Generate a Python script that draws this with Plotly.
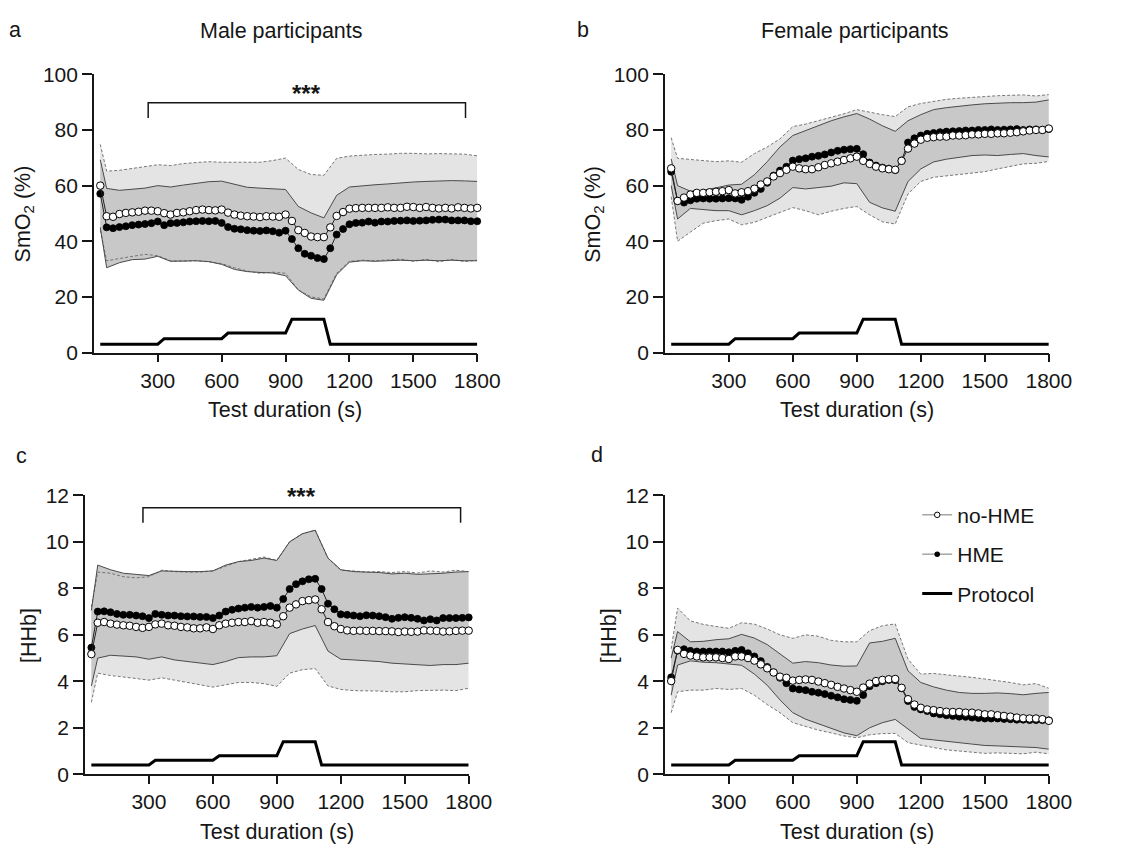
import plotly.graph_objects as go

W, H = 1146, 857

# ---------------- data ----------------
t = list(range(30, 1801, 30))                      # mean time points (s)
band_t = [30] + list(range(60, 1801, 60))          # band sample points (s)

# Panel a: SmO2, male
a_noHME = [60.0, 49.0, 48.8, 49.8, 50.2, 50.4, 50.6, 51.0, 51.0, 50.8,
           50.1, 49.6, 50.2, 50.4, 50.8, 51.2, 51.4, 51.2, 51.1, 51.4,
           50.3, 49.6, 49.2, 49.0, 48.9, 48.7, 49.0, 48.9, 48.8, 49.6,
           47.3, 44.0, 43.0, 41.7, 41.5, 41.5, 45.0, 49.1, 50.5, 51.7,
           51.9, 52.0, 52.0, 52.0, 52.0, 52.2, 52.0, 52.0, 52.4, 52.3,
           52.0, 52.3, 52.0, 51.8, 52.0, 51.8, 52.2, 52.0, 51.8, 52.0]
a_HME = [57.1, 45.0, 44.7, 45.1, 45.4, 45.8, 46.0, 46.2, 46.5, 47.1,
         45.8, 46.5, 46.6, 46.8, 47.1, 47.2, 47.3, 47.2, 47.3, 46.6,
         45.1, 44.5, 44.3, 44.0, 43.8, 43.7, 43.9, 43.6, 43.1, 43.8,
         40.8, 37.5, 35.5, 34.8, 34.0, 33.6, 37.5, 42.4, 44.4, 46.1,
         46.6, 46.7, 47.1, 46.7, 47.1, 47.1, 47.3, 47.4, 47.5, 47.3,
         47.4, 47.5, 47.7, 47.8, 47.8, 47.5, 47.5, 47.5, 47.2, 47.2]
a_dash_up = [74.8, 65.2, 65.5, 66.2, 66.9, 67.5, 67.2, 67.9, 68.3, 68.6, 68.4,
             68.4, 68.2, 68.4, 69.0, 69.9, 65.8, 64.0, 63.7, 69.8, 70.6,
             71.0, 71.2, 71.3, 71.6, 71.6, 71.4, 71.5, 71.3, 71.3, 70.7]
a_dash_lo = [44.0, 33.0, 33.8, 34.5, 35.3, 34.8, 33.0, 32.9, 33.0, 32.6, 32.0,
             30.5, 29.3, 28.5, 28.9, 28.5, 22.5, 20.0, 19.3, 28.5, 32.8,
             33.2, 33.0, 33.3, 33.6, 32.8, 33.5, 32.6, 33.5, 32.7, 33.2]
a_sol_up = [69.3, 59.0, 58.3, 58.6, 59.1, 60.0, 59.5, 60.2, 60.9, 61.4, 61.6,
            60.6, 59.4, 59.1, 58.8, 58.6, 52.5, 50.2, 48.4, 56.5, 59.5,
            60.0, 60.3, 60.6, 61.0, 61.3, 61.5, 61.7, 61.8, 61.7, 61.5]
a_sol_lo = [45.0, 30.5, 32.3, 33.4, 33.6, 34.6, 32.8, 32.8, 33.0, 32.7, 31.7,
            29.9, 29.1, 28.8, 28.6, 27.6, 22.5, 19.5, 18.8, 28.0, 32.5,
            33.0, 32.8, 33.0, 33.2, 33.0, 33.2, 33.0, 33.2, 33.0, 33.0]

# Panel b: SmO2, female
b_noHME = [66.2, 54.5, 55.7, 56.8, 57.4, 57.4, 57.6, 57.8, 58.0, 58.4,
           57.2, 57.6, 58.0, 58.9, 60.4, 61.5, 63.3, 64.5, 65.7, 66.8,
           66.2, 65.9, 65.9, 66.6, 67.4, 68.0, 68.6, 69.2, 69.8, 70.4,
           68.9, 67.8, 66.8, 66.2, 65.9, 65.7, 68.9, 73.3, 75.1, 76.5,
           77.2, 77.4, 77.6, 77.6, 78.0, 78.0, 78.1, 78.4, 78.4, 78.6,
           78.6, 78.8, 78.8, 79.0, 79.2, 79.5, 79.8, 80.0, 80.0, 80.5]
b_HME = [65.0, 54.5, 53.9, 54.7, 55.3, 55.4, 55.3, 55.3, 55.4, 55.5,
         55.4, 54.9, 56.0, 57.4, 58.8, 61.0, 63.6, 65.4, 66.8, 69.0,
         69.5, 69.8, 70.4, 70.7, 71.2, 71.9, 72.5, 72.9, 73.1, 73.2,
         71.3, 68.3, 67.2, 66.5, 66.1, 65.6, 69.0, 75.5, 77.0, 78.0,
         78.6, 78.9, 79.2, 79.4, 79.5, 79.6, 79.8, 79.8, 80.0, 80.0,
         80.2, 80.0, 80.1, 80.2, 80.3, 80.0, 80.2, 80.2, 80.0, 80.3]
b_dash_up = [77.2, 69.8, 69.4, 68.9, 68.6, 68.9, 68.4, 71.5, 73.9, 76.8, 81.2,
             82.1, 83.3, 84.5, 85.8, 87.3, 86.3, 85.5, 84.8, 88.3, 89.5,
             90.3, 91.0, 91.4, 91.8, 92.0, 92.3, 92.5, 92.6, 92.2, 92.7]
b_dash_lo = [56.0, 40.0, 43.3, 46.5, 47.4, 48.0, 45.9, 46.8, 48.6, 50.4, 52.1,
             51.0, 49.5, 50.8, 51.8, 52.5, 49.5, 47.0, 46.2, 57.0, 61.5,
             63.0, 63.5, 64.0, 64.5, 65.0, 66.0, 67.0, 67.8, 68.0, 68.7]
b_sol_up = [69.6, 60.0, 58.0, 58.3, 59.2, 60.2, 60.5, 63.9, 68.6, 73.9, 78.0,
            79.8, 81.5, 83.3, 84.7, 85.9, 83.9, 81.5, 79.5, 83.3, 85.5,
            87.3, 88.0, 88.6, 89.0, 89.4, 89.7, 89.8, 89.8, 90.0, 90.8]
b_sol_lo = [60.0, 48.0, 51.8, 51.3, 51.0, 51.0, 49.5, 51.0, 52.8, 55.5, 59.3,
            58.8, 59.3, 59.8, 61.0, 60.7, 54.0, 52.0, 50.8, 61.5, 66.0,
            68.5, 69.5, 70.2, 70.8, 71.0, 70.8, 71.2, 71.5, 70.8, 70.3]

# Panel c: [HHb], male
c_noHME = [5.17, 6.52, 6.55, 6.48, 6.44, 6.41, 6.39, 6.34, 6.30, 6.34,
           6.45, 6.48, 6.41, 6.39, 6.34, 6.32, 6.28, 6.28, 6.32, 6.25,
           6.41, 6.48, 6.52, 6.55, 6.55, 6.59, 6.52, 6.55, 6.52, 6.45,
           6.80, 7.17, 7.31, 7.45, 7.49, 7.52, 7.10, 6.55, 6.37, 6.25,
           6.19, 6.17, 6.18, 6.17, 6.17, 6.16, 6.16, 6.15, 6.12, 6.14,
           6.13, 6.14, 6.19, 6.18, 6.17, 6.14, 6.15, 6.17, 6.18, 6.18]
c_HME = [5.45, 7.00, 7.01, 6.97, 6.90, 6.86, 6.86, 6.83, 6.80, 6.72,
         6.90, 6.86, 6.83, 6.83, 6.80, 6.79, 6.79, 6.77, 6.77, 6.72,
         6.83, 7.00, 7.08, 7.13, 7.17, 7.20, 7.17, 7.20, 7.24, 7.17,
         7.54, 7.97, 8.18, 8.30, 8.39, 8.41, 7.97, 7.34, 7.10, 6.88,
         6.86, 6.83, 6.80, 6.84, 6.83, 6.80, 6.76, 6.69, 6.73, 6.76,
         6.73, 6.69, 6.62, 6.67, 6.62, 6.72, 6.72, 6.72, 6.73, 6.75]
c_dash_up = [7.20, 8.70, 8.65, 8.50, 8.45, 8.50, 8.78, 8.72, 8.70, 8.70, 8.75,
             8.95, 9.15, 9.25, 9.35, 9.20, 10.0, 10.35, 10.5, 9.30, 8.78,
             8.75, 8.70, 8.72, 8.68, 8.72, 8.66, 8.75, 8.70, 8.78, 8.72]
c_dash_lo = [3.10, 4.35, 4.25, 4.20, 4.12, 4.05, 4.15, 4.05, 3.95, 3.85, 3.75,
             3.85, 3.95, 3.95, 3.90, 3.78, 4.35, 4.50, 4.55, 3.80, 3.65,
             3.60, 3.60, 3.58, 3.55, 3.55, 3.60, 3.62, 3.62, 3.60, 3.70]
c_sol_up = [7.05, 9.00, 8.80, 8.65, 8.60, 8.55, 8.75, 8.72, 8.72, 8.72, 8.75,
            9.00, 9.15, 9.20, 9.30, 9.20, 10.0, 10.35, 10.5, 9.30, 8.80,
            8.72, 8.70, 8.68, 8.62, 8.65, 8.60, 8.62, 8.65, 8.70, 8.72]
c_sol_lo = [3.80, 5.00, 5.12, 5.10, 5.05, 4.95, 5.05, 4.92, 4.85, 4.80, 4.72,
            4.85, 5.02, 5.05, 5.05, 5.10, 6.05, 6.25, 6.40, 5.30, 4.95,
            4.92, 4.90, 4.85, 4.78, 4.75, 4.72, 4.68, 4.72, 4.72, 4.78]

# Panel d: [HHb], female
d_noHME = [4.01, 5.35, 5.18, 5.11, 5.07, 5.03, 5.03, 5.03, 5.00, 4.96,
           5.07, 5.07, 5.00, 4.89, 4.73, 4.56, 4.38, 4.20, 4.15, 4.03,
           4.06, 4.08, 4.06, 3.99, 3.92, 3.85, 3.76, 3.69, 3.62, 3.55,
           3.73, 3.90, 4.01, 4.06, 4.09, 4.10, 3.72, 3.23, 3.00, 2.86,
           2.79, 2.76, 2.72, 2.69, 2.68, 2.68, 2.65, 2.65, 2.62, 2.58,
           2.58, 2.54, 2.51, 2.48, 2.44, 2.41, 2.40, 2.40, 2.37, 2.30]
d_HME = [4.17, 5.32, 5.38, 5.31, 5.28, 5.28, 5.28, 5.28, 5.28, 5.25,
         5.31, 5.35, 5.21, 5.07, 4.87, 4.62, 4.38, 4.15, 3.92, 3.69,
         3.65, 3.62, 3.55, 3.51, 3.45, 3.38, 3.31, 3.23, 3.20, 3.16,
         3.41, 3.79, 3.92, 4.00, 4.06, 4.05, 3.70, 3.15, 2.90, 2.79,
         2.72, 2.62, 2.58, 2.54, 2.51, 2.48, 2.47, 2.44, 2.42, 2.40,
         2.40, 2.40, 2.38, 2.37, 2.35, 2.35, 2.33, 2.33, 2.33, 2.32]
d_dash_up = [5.40, 7.15, 6.60, 6.45, 6.36, 6.28, 6.52, 6.46, 6.25, 6.00, 5.85,
             6.00, 5.94, 5.76, 5.70, 5.70, 6.18, 6.39, 6.47, 4.95, 4.31,
             4.34, 4.28, 4.24, 4.17, 4.10, 4.03, 3.95, 3.85, 3.90, 3.70]
d_dash_lo = [2.65, 3.55, 3.62, 3.62, 3.69, 3.65, 3.69, 3.40, 3.00, 2.65, 2.22,
             2.05, 1.90, 1.78, 1.65, 1.57, 1.70, 1.75, 1.76, 1.36, 1.27,
             1.15, 1.05, 1.00, 0.95, 0.90, 0.92, 0.90, 0.88, 0.95, 0.88]
d_sol_up = [5.00, 6.14, 5.70, 5.72, 5.79, 5.83, 6.02, 5.86, 5.58, 5.17, 4.78,
            4.85, 4.80, 4.70, 4.65, 4.66, 5.65, 5.72, 5.85, 4.45, 3.95,
            3.76, 3.62, 3.52, 3.48, 3.48, 3.50, 3.47, 3.42, 3.48, 3.52]
d_sol_lo = [3.40, 4.70, 4.88, 4.82, 4.80, 4.74, 4.69, 4.31, 3.83, 3.20, 2.65,
            2.37, 2.17, 1.96, 1.78, 1.66, 2.00, 2.22, 2.36, 1.95, 1.54,
            1.48, 1.42, 1.36, 1.32, 1.24, 1.22, 1.20, 1.17, 1.15, 1.08]

# Exercise protocol (schematic)
prot_t = [30, 300, 330, 600, 630, 900, 930, 1080, 1110, 1800]
prot_smo2 = [3, 3, 5, 5, 7, 7, 12, 12, 3, 3]
prot_hhb = [0.4, 0.4, 0.6, 0.6, 0.8, 0.8, 1.4, 1.4, 0.4, 0.4]

x_ticks = [300, 600, 900, 1200, 1500, 1800]
smo2_ticks = [0, 20, 40, 60, 80, 100]
hhb_ticks = [0, 2, 4, 6, 8, 10, 12]

# significance brackets: (x_left, x_right, y_bottom, y_top, star_y)
brk_a = (255, 1745, 84.3, 89.8, 93.2)
brk_c = (272, 1762, 10.82, 11.47, 11.93)

# ---------------- style ----------------
FONT = "Liberation Sans, Arial, Helvetica, sans-serif"
INK = "#161616"
LIGHT = "#e4e4e4"
DARK = "#c8c8c8"
TICK_SIZE = 21
TITLE_SIZE = 21.5


def px_x(p):
    return p / W


def px_y(p):
    return 1 - p / H


fig = go.Figure()


def add_panel(n, mean_no, mean_hme, du, dl, su, sl, prot):
    xa = "x" if n == 1 else f"x{n}"
    ya = "y" if n == 1 else f"y{n}"
    common = dict(xaxis=xa, yaxis=ya, showlegend=False, hoverinfo="skip")
    fig.add_trace(go.Scatter(x=band_t + band_t[::-1], y=du + dl[::-1], fill="toself",
                             fillcolor=LIGHT, mode="lines", line=dict(width=0), **common))
    fig.add_trace(go.Scatter(x=band_t + band_t[::-1], y=su + sl[::-1], fill="toself",
                             fillcolor=DARK, mode="lines", line=dict(width=0), **common))
    for arr in (du, dl):
        fig.add_trace(go.Scatter(x=band_t, y=arr, mode="lines",
                                 line=dict(color="#6a6a6a", width=0.9, dash="3px,2px"), **common))
    for arr in (su, sl):
        fig.add_trace(go.Scatter(x=band_t, y=arr, mode="lines",
                                 line=dict(color="#4a4a4a", width=1), **common))
    fig.add_trace(go.Scatter(x=prot_t, y=prot, mode="lines",
                             line=dict(color="black", width=3), **common))
    fig.add_trace(go.Scatter(x=t, y=mean_hme, mode="lines+markers", cliponaxis=False,
                             line=dict(color="#222222", width=1),
                             marker=dict(size=7, color="black", line=dict(width=0.8, color="black")),
                             **common))
    fig.add_trace(go.Scatter(x=t, y=mean_no, mode="lines+markers", cliponaxis=False,
                             line=dict(color="#222222", width=1),
                             marker=dict(size=7.5, color="white", line=dict(width=1, color="black")),
                             **common))


add_panel(1, a_noHME, a_HME, a_dash_up, a_dash_lo, a_sol_up, a_sol_lo, prot_smo2)
add_panel(2, b_noHME, b_HME, b_dash_up, b_dash_lo, b_sol_up, b_sol_lo, prot_smo2)
add_panel(3, c_noHME, c_HME, c_dash_up, c_dash_lo, c_sol_up, c_sol_lo, prot_hhb)
add_panel(4, d_noHME, d_HME, d_dash_up, d_dash_lo, d_sol_up, d_sol_lo, prot_hhb)

# legend entries (panel d)
fig.add_trace(go.Scatter(x=[None], y=[None], xaxis="x4", yaxis="y4", name="no-HME",
                         legendgroup="g1", mode="lines+markers",
                         line=dict(color="#7a7a7a", width=1),
                         marker=dict(size=5.5, color="white", line=dict(width=1, color="black"))))
fig.add_trace(go.Scatter(x=[None], y=[None], xaxis="x4", yaxis="y4", name="HME",
                         legendgroup="g2", mode="lines+markers",
                         line=dict(color="#7a7a7a", width=1),
                         marker=dict(size=5.5, color="black")))
fig.add_trace(go.Scatter(x=[None], y=[None], xaxis="x4", yaxis="y4", name="Protocol",
                         legendgroup="g3", mode="lines",
                         line=dict(color="black", width=3)))


def xaxis(dom):
    return dict(domain=dom, range=[0, 1800], tickvals=x_ticks, ticks="outside",
                ticklen=8, tickwidth=1.5, tickcolor=INK, showline=True, linecolor=INK,
                linewidth=1.5, showgrid=False, zeroline=False, fixedrange=True,
                tickfont=dict(size=TICK_SIZE, color=INK, family=FONT))


def yaxis(dom, rng, tv, anchor):
    return dict(domain=dom, range=rng, tickvals=tv, ticks="outside", anchor=anchor,
                ticklen=10, tickwidth=1.5, tickcolor=INK, showline=True, linecolor=INK,
                linewidth=1.5, showgrid=False, zeroline=False, fixedrange=True,
                tickfont=dict(size=TICK_SIZE, color=INK, family=FONT))


xa_dom = [px_x(95.8), px_x(487.0)]
xb_dom = [px_x(678.4), px_x(1070.3)]
xc_dom = [px_x(86.7), px_x(478.3)]
y_top_dom = [px_y(350.0), px_y(64.0)]
y_bot_dom = [px_y(783.3), px_y(496.7)]

layout = dict(
    width=W, height=H, margin=dict(l=0, r=0, t=0, b=0),
    paper_bgcolor="white", plot_bgcolor="white",
    font=dict(family=FONT, color=INK, size=20),
    xaxis=dict(xaxis(xa_dom), anchor="y"),
    yaxis=yaxis(y_top_dom, [0, 100], smo2_ticks, "x"),
    xaxis2=dict(xaxis(xb_dom), anchor="y2"),
    yaxis2=yaxis(y_top_dom, [0, 100], smo2_ticks, "x2"),
    xaxis3=dict(xaxis(xc_dom), anchor="y3"),
    yaxis3=yaxis(y_bot_dom, [0, 12], hhb_ticks, "x3"),
    xaxis4=dict(xaxis(xb_dom), anchor="y4"),
    yaxis4=yaxis(y_bot_dom, [0, 12], hhb_ticks, "x4"),
    showlegend=True,
    legend=dict(x=px_x(936), y=px_y(496), xanchor="left", yanchor="top",
                font=dict(size=21, family=FONT, color=INK), bgcolor="rgba(0,0,0,0)",
                traceorder="grouped", tracegroupgap=9, itemwidth=30),
)
fig.update_layout(**layout)

ann = []


def text(x, y, s, size=TITLE_SIZE, angle=0, bold=False):
    ann.append(dict(x=px_x(x), y=px_y(y), xref="paper", yref="paper", text=(f"<b>{s}</b>" if bold else s),
                    showarrow=False, textangle=angle, xanchor="center", yanchor="middle",
                    font=dict(size=size, family=FONT, color=INK)))


text(15, 19, "a")
text(595, 19, "b")
text(21.7, 456, "c")
text(609.7, 455, "d")
text(287, 20, "Male participants")
text(873, 20, "Female participants")
text(25, 207.5, "SmO<sub>2</sub> (%)", angle=-90)
text(607, 207.5, "SmO<sub>2</sub> (%)", angle=-90)
text(29, 640.7, "[HHb]", angle=-90)
text(621.3, 640.7, "[HHb]", angle=-90)
text(291, 409, "Test duration (s)")
text(874.4, 409, "Test duration (s)")
text(282.5, 842.5, "Test duration (s)")
text(874.4, 842.5, "Test duration (s)")

# significance stars
for (xl, xr, yb, yt, ys), xr_, yr_ in ((brk_a, "x", "y"), (brk_c, "x3", "y3")):
    ann.append(dict(x=(xl + xr) / 2, y=ys, xref=xr_, yref=yr_, text="<b>***</b>", showarrow=False,
                    xanchor="center", yanchor="middle", font=dict(size=24, family=FONT, color=INK)))

shapes = []
for (xl, xr, yb, yt, ys), xr_, yr_ in ((brk_a, "x", "y"), (brk_c, "x3", "y3")):
    shapes.append(dict(type="path", xref=xr_, yref=yr_,
                       path=f"M {xl},{yb} L {xl},{yt} L {xr},{yt} L {xr},{yb}",
                       line=dict(color=INK, width=1.5)))

fig.update_layout(annotations=ann, shapes=shapes)

fig.write_html("out.html")
